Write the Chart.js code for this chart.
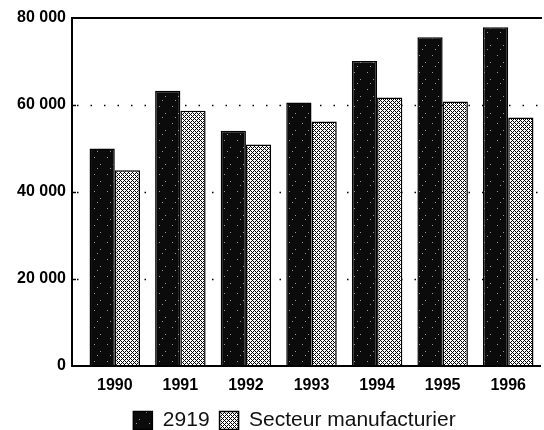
<!DOCTYPE html>
<html>
<head>
<meta charset="utf-8">
<script src="https://cdn.jsdelivr.net/npm/chart.js@4"></script>
<style>
  html, body { margin: 0; padding: 0; background: #fff; }
  #wrap { width: 544px; height: 430px; }
</style>
</head>
<body>
<div id="wrap"><canvas id="myChart" width="544" height="430"></canvas></div>
<script>
const years = ['1990', '1991', '1992', '1993', '1994', '1995', '1996'];
const valuesIndustry = [50000, 63300, 54100, 60600, 70100, 75600, 77900];
const valuesManufacturing = [45000, 58700, 50900, 56200, 61700, 60800, 57100];
const yTicks = [0, 20000, 40000, 60000, 80000];
const seriesNames = ['2919', 'Secteur manufacturier'];

// hatch patterns
function makeCross() {
    const c = document.createElement('canvas');
    c.width = 4; c.height = 4;
    const g = c.getContext('2d');
    g.fillStyle = '#fff';
    g.fillRect(0, 0, 4, 4);
    g.fillStyle = '#000';
    for (let x = 0; x < 4; x++) {
        for (let y = 0; y < 4; y++) {
            if ((x + y) % 4 === 0 || (x - y + 4) % 4 === 0) g.fillRect(x, y, 1, 1);
        }
    }
    return g.createPattern(c, 'repeat');
}
function makeDark() {
    const c = document.createElement('canvas');
    c.width = 13; c.height = 17;
    const g = c.getContext('2d');
    g.fillStyle = '#0b0b0b';
    g.fillRect(0, 0, 13, 17);
    g.fillStyle = '#9a9a9a';
    g.fillRect(3, 4, 1, 1);
    g.fillRect(9, 11, 1, 1);
    g.fillRect(6, 15, 1, 1);
    return g.createPattern(c, 'repeat');
}

const fmt = v => String(v).replace(/\B(?=(\d{3})+(?!\d))/g, ' ');

const axesLines = {
    id: 'axesLines',
    afterLayout(chart) {
        // legend sits a bit right of the canvas centre in the original
        chart.legend.left += 24;
        chart.legend.right += 24;
    },
    beforeDatasetsDraw(chart) {
        const ctx = chart.ctx, a = chart.chartArea, y = chart.scales.y;
        ctx.save();
        ctx.strokeStyle = '#000';
        ctx.lineWidth = 1.5;
        ctx.setLineDash([1.5, 12]);
        yTicks.slice(1, -1).forEach(v => {
            const py = Math.round(y.getPixelForValue(v)) + 0.5;
            ctx.beginPath();
            ctx.moveTo(a.left - 5, py);
            ctx.lineTo(a.right, py);
            ctx.stroke();
        });
        ctx.setLineDash([]);
        yTicks.slice(1, -1).forEach(v => {
            const py = Math.round(y.getPixelForValue(v)) + 0.5;
            ctx.beginPath();
            ctx.moveTo(a.left - 10, py);
            ctx.lineTo(a.left - 6, py);
            ctx.stroke();
        });
        ctx.restore();
    },
    afterDatasetsDraw(chart) {
        const ctx = chart.ctx, a = chart.chartArea, y = chart.scales.y;
        const x0 = a.left - 10;
        const top = y.getPixelForValue(80000);
        const bot = y.getPixelForValue(0);
        ctx.save();
        ctx.strokeStyle = '#000';
        ctx.lineWidth = 2;
        ctx.beginPath();
        ctx.moveTo(x0, top);
        ctx.lineTo(a.right + 1, top);
        ctx.moveTo(x0, top - 1);
        ctx.lineTo(x0, bot + 1);
        ctx.moveTo(x0, bot);
        ctx.lineTo(a.right, bot);
        ctx.stroke();
        ctx.restore();
    }
};

new Chart(document.getElementById('myChart'), {
    type: 'bar',
    data: {
        labels: years,
        datasets: [{
            label: seriesNames[0],
            data: valuesIndustry,
            backgroundColor: makeDark(),
            borderColor: '#000',
            borderWidth: 1.5
        }, {
            label: seriesNames[1],
            data: valuesManufacturing,
            backgroundColor: makeCross(),
            borderColor: '#000',
            borderWidth: 1.5
        }]
    },
    options: {
        responsive: false,
        animation: false,
        layout: { padding: { left: 0, right: 3, top: 18, bottom: -11 } },
        datasets: { bar: { categoryPercentage: 0.77, barPercentage: 1.0 } },
        scales: {
            x: {
                grid: { display: false, drawTicks: false },
                border: { display: false },
                afterFit(s) { s.height = 34; s.paddingLeft = 0; s.paddingRight = 0; },
                ticks: {
                    color: '#000',
                    padding: 10,
                    maxRotation: 0,
                    font: { family: "'Liberation Sans', Arial, sans-serif", size: 16, weight: 'bold' }
                }
            },
            y: {
                min: 0,
                max: 80000,
                afterFit(s) { s.width = 82; s.paddingTop = 0; s.paddingBottom = 0; },
                afterBuildTicks(s) { s.ticks = yTicks.map(v => ({ value: v })); },
                grid: { display: false, drawTicks: false },
                border: { display: false },
                ticks: {
                    color: '#000',
                    padding: 16,
                    callback: v => fmt(v),
                    font: { family: "'Liberation Sans', Arial, sans-serif", size: 16, weight: 'bold' }
                }
            }
        },
        plugins: {
            legend: {
                position: 'bottom',
                labels: {
                    color: '#111',
                    boxWidth: 19,
                    boxHeight: 18,
                    padding: 10,
                    font: { family: "'Liberation Sans', Arial, sans-serif", size: 21 }
                }
            },
            tooltip: { enabled: false }
        }
    },
    plugins: [axesLines]
});
</script>
</body>
</html>
